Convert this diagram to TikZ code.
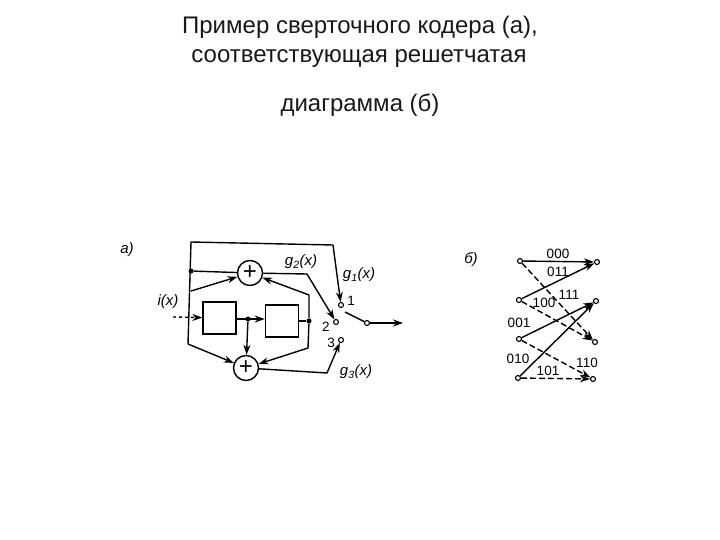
\documentclass[tikz,border=0pt]{standalone}
\usepackage{fontspec}
\setmainfont{Liberation Sans}
\usetikzlibrary{arrows.meta}
\tikzset{
  wire/.style={draw,line width=1.4pt},
  arrowwire/.style={wire,-{Stealth[length=10pt,width=7pt]}},
  dashwire/.style={arrowwire,dash pattern=on 6pt off 3pt},
  term/.style={circle,draw,line width=1.1pt,fill=white,minimum size=5pt,inner sep=0pt},
  junction/.style={circle,fill=black,minimum size=5pt,inner sep=0pt},
  adder/.style={circle,draw,line width=1.4pt,minimum size=25pt,inner sep=0pt,font=\fontsize{24}{24}\selectfont},
  register/.style={rectangle,draw,line width=1.4pt,minimum width=33pt,minimum height=32pt,inner sep=0pt},
  heading/.style={font=\fontsize{24}{24}\selectfont,text=black!90},
  tag/.style={font=\fontsize{15}{15}\selectfont\itshape,inner sep=0pt},
  digits/.style={font=\fontsize{13.5}{14}\selectfont,inner sep=0pt}
}
\begin{document}
\begin{tikzpicture}[x=1pt,y=-1pt]
    \useasboundingbox (0,0) rectangle (720,540);
    %Title
    \node[heading] (line1) at (360,27) {Пример сверточного кодера (а),};
    \node[heading] (line2) at (359,59) {соответствующая решетчатая};
    \node[heading] (line3) at (360,105) {диаграмма (б)};

    %Coder
    \begin{scope}
      \node[adder] (addtop) at (250,273) {+};
      \node[adder] (addbot) at (246,368) {+};
      \node[register] (reg1) at (219.5,318) {};
      \node[register] (reg2) at (282,321) {};
      \node[junction] (jtop) at (191,271) {};
      \node[junction] (jmid) at (248,319) {};
      \node[junction] (jout) at (309,321) {};
      \node[term] (t1) at (341,305) {};
      \node[term] (t2) at (336,322) {};
      \node[term] (t3) at (341,340) {};
      \node[term] (tout) at (367,323) {};
      \coordinate (cornera) at (191,242);
      \coordinate (cornerb) at (333,245);
      \coordinate (cornerc) at (188,344);
      \coordinate (cornerd) at (191,291);
      \coordinate (cornere) at (309,295);
      \coordinate (cornerf) at (308,348);
      \coordinate (cornerg) at (307,274);
      \coordinate (cornerh) at (327,373);
      \coordinate (input) at (173,317);
      \coordinate (output) at (403,323);
      \coordinate (swfrom) at (345,312);
    \end{scope}

    \path[wire] (cornerc) -- (cornera) -- (cornerb);
    \path[arrowwire] (cornerb) -- (t1);
    \path[wire] (jtop) -- (addtop);
    \path[arrowwire] (cornerd) -- (addtop);
    \path[arrowwire] (jout) -- (cornere) -- (addtop);
    \path[arrowwire] (jout) -- (cornerf) -- (addbot);
    \path[arrowwire] (cornerc) -- (addbot);
    \path[arrowwire,dashed] (input) -- (reg1);
    \path[arrowwire] (reg1.east |- jmid) -- (reg2.west |- jmid);
    \path[arrowwire] (jmid) -- (addbot);
    \path[wire] (reg2.east |- jout) -- (jout);
    \path[arrowwire] (addtop) -- (cornerg) -- (t2);
    \path[arrowwire] (addbot) -- (cornerh) -- (t3);
    \path[wire] (swfrom) -- (tout);
    \path[arrowwire] (tout) -- (output);

    \node[tag] (laba) at (127,250) {а)};
    \node[tag] (labi) at (168,302) {i(x)};
    \node[tag] (labg2) at (301,262) {g\textsubscript{2}(x)};
    \node[tag] (labg1) at (359,275) {g\textsubscript{1}(x)};
    \node[tag] (labg3) at (356,372) {g\textsubscript{3}(x)};
    \node[digits] (lab1) at (351,301) {1};
    \node[digits] (lab2) at (326,327) {2};
    \node[digits] (lab3) at (331,343) {3};

    %Trellis
    \begin{scope}
      \node[term] (l1) at (520,261) {};
      \node[term] (l2) at (519,300) {};
      \node[term] (l3) at (519,339) {};
      \node[term] (l4) at (518,378) {};
      \node[term] (r1) at (597,262) {};
      \node[term] (r2) at (596,301) {};
      \node[term] (r3) at (595,342) {};
      \node[term] (r4) at (593,379) {};
    \end{scope}

    \path[arrowwire] (l1) -- (r1);
    \path[arrowwire] (l2) -- (r1);
    \path[arrowwire] (l3) -- (r2);
    \path[arrowwire] (l4) -- (r2);
    \path[dashwire] (l1) -- (r3);
    \path[dashwire] (l2) -- (r3);
    \path[dashwire] (l3) -- (r4);
    \path[dashwire] (l4) -- (r4);

    \node[tag] (labb) at (471,260) {б)};
    \node[digits] (c000) at (558,254) {000};
    \node[digits] (c011) at (558,272) {011};
    \node[digits] (c111) at (569,295) {111};
    \node[digits] (c100) at (544,303) {100};
    \node[digits] (c001) at (519,323) {001};
    \node[digits] (c010) at (518,359) {010};
    \node[digits] (c110) at (587,363) {110};
    \node[digits] (c101) at (548,371) {101};
\end{tikzpicture}
\end{document}
